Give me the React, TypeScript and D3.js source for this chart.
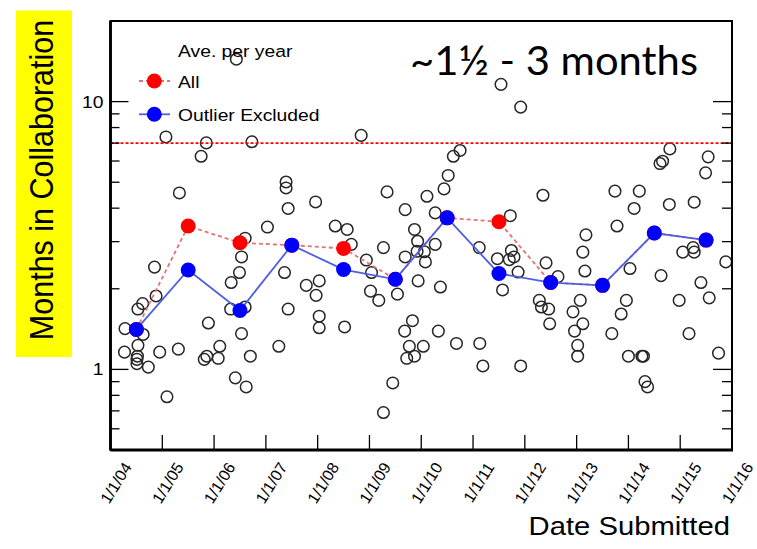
import React from "react";
import * as d3 from "d3";

// Submission date (decimal year) and months spent in collaboration, one entry per paper
const submitYear = [
  2006.43, 2005.07, 2005.85, 2006.73, 2005.75, 2005.33, 2007.39, 2007.39, 2007.43, 2007.96,
  2007.03, 2006.6, 2004.85, 2006.53, 2006.49, 2006.33, 2007.36, 2008.03, 2007.78, 2007.97,
  2004.88, 2004.62, 2004.53, 2006.32, 2006.6, 2007.43, 2008.03, 2004.28, 2004.63, 2005.89,
  2006.53, 2008.03, 2004.53, 2004.27, 2004.95, 2005.31, 2006.11, 2005.86, 2005.81, 2006.08,
  2006.7, 2007.25, 2004.52, 2004.51, 2004.51, 2004.73, 2006.41, 2006.62, 2005.09,
  2011.54, 2011.92, 2008.84, 2010.75, 2010.62, 2010.52, 2010.44, 2010.11, 2009.34, 2009.69,
  2010.27, 2011.72, 2008.34, 2008.57, 2009.87, 2008.65, 2009.27, 2009.93, 2010.27, 2009.92,
  2010.06, 2009.69, 2010.08, 2008.94, 2009.04, 2011.12, 2011.47, 2011.74, 2011.79, 2011.7,
  2011.87, 2009.02, 2009.18, 2009.54, 2009.94, 2010.37, 2011.57, 2008.52, 2009.83, 2009.68,
  2010.33, 2009.77, 2010.04, 2009.72, 2009.87, 2010.68, 2011.13, 2011.19, 2011.92, 2009.45, 2009.27,
  2014.8, 2014.66, 2014.61, 2015.54, 2015.49, 2012.35, 2013.74, 2014.21, 2014.11, 2014.79,
  2015.27, 2013.78, 2013.18, 2013.12, 2013.16, 2012.41, 2012.64, 2014.03, 2014.63, 2015.05,
  2015.25, 2015.27, 2015.88, 2015.4, 2015.56, 2014.98, 2013.96, 2013.86, 2013.07, 2012.93,
  2012.28, 2012.32, 2012.46, 2012.48, 2013.12, 2012.96, 2013.68, 2015.17, 2013.02, 2013.02,
  2014.0, 2014.26, 2014.29, 2015.74, 2014.32, 2014.37,
];

const monthsInCollab = [
  14.4, 7.38, 7.01, 7.08, 6.25, 4.56, 5.01, 4.76, 3.99, 4.22,
  3.4, 3.09, 2.41, 2.63, 2.3, 2.11, 2.3, 2.14, 2.06, 1.89,
  1.88, 1.76, 1.68, 1.68, 1.71, 1.68, 1.58, 1.42, 1.35, 1.49,
  1.36, 1.43, 1.23, 1.16, 1.16, 1.19, 1.22, 1.12, 1.09, 1.1,
  1.12, 1.22, 1.12, 1.09, 1.05, 1.02, 0.93, 0.86, 0.79,
  11.6, 9.54, 7.48, 6.57, 6.25, 5.3, 4.72, 4.43, 4.6, 3.95,
  3.84, 3.75, 3.43, 3.33, 3.33, 2.93, 2.85, 3.01, 2.93, 2.76,
  2.75, 2.63, 2.52, 2.56, 2.3, 2.85, 2.59, 2.78, 2.63, 2.57,
  2.31, 1.96, 1.81, 1.91, 2.14, 2.03, 1.98, 1.44, 1.52, 1.39,
  1.39, 1.22, 1.22, 1.1, 1.12, 1.25, 1.25, 1.03, 1.03, 0.89, 0.69,
  6.66, 5.99, 5.87, 6.22, 5.42, 4.47, 4.63, 4.63, 3.99, 4.13,
  4.21, 3.43, 3.18, 2.74, 2.33, 2.5, 2.22, 2.38, 2.24, 2.74,
  2.85, 2.74, 2.52, 2.11, 1.85, 1.81, 1.81, 1.61, 1.81, 1.64,
  1.81, 1.71, 1.68, 1.48, 1.48, 1.39, 1.36, 1.36, 1.23, 1.12,
  1.12, 1.12, 1.12, 1.15, 0.9, 0.86,
];

// Yearly averages, plotted at mid-year
const avgYear = [2004.5, 2005.5, 2006.5, 2007.5, 2008.5, 2009.5, 2010.5, 2011.5, 2012.5, 2013.5, 2014.5, 2015.5];
const avgAll = [1.41, 3.43, 2.97, 2.91, 2.83, 2.17, 3.68, 3.56, 2.11, 2.06, 3.23, 3.04];
const avgOutlierExcluded = [1.41, 2.35, 1.66, 2.91, 2.36, 2.17, 3.68, 2.28, 2.11, 2.06, 3.23, 3.04];

const referenceLevel = 7;

const xTickYears = [2004, 2005, 2006, 2007, 2008, 2009, 2010, 2011, 2012, 2013, 2014, 2015, 2016];
const xTickLabels = ["1/1/04", "1/1/05", "1/1/06", "1/1/07", "1/1/08", "1/1/09", "1/1/10", "1/1/11", "1/1/12", "1/1/13", "1/1/14", "1/1/15", "1/1/16"];
const yMajorTicks = [1, 10];
const yMajorLabels = ["1", "10"];
const yMinorTicks = [0.6, 0.7, 0.8, 0.9, 2, 3, 4, 5, 6, 7, 8, 9];

const W = 757;
const H = 549;
const left = 110.5;
const right = 732;
const top = 21;
const bottom = 450;
const SX = 1.17; // horizontal text stretch
const FONT = "'Liberation Sans', Arial, Helvetica, sans-serif";

export default function App() {
  const x = d3.scaleLinear().domain([2004, 2016]).range([left, right]);
  const y = d3.scaleLog().domain([0.5, 20]).range([bottom, top]);

  const line = d3
    .line<number>()
    .x((_, i) => x(avgYear[i]))
    .y((d) => y(d));

  const stretched = (tx: number, ty: number, extra = "") => `translate(${tx},${ty}) scale(${SX},1)${extra}`;

  return (
    <svg
      width={W}
      height={H}
      viewBox={`0 0 ${W} ${H}`}
      style={{ position: "absolute", left: 0, top: 0, background: "#fff" }}
      fontFamily={FONT}
    >
      <rect x={0} y={0} width={W} height={H} fill="#fff" />

      {/* y-axis title on yellow band */}
      <rect x={16} y={10.5} width={56} height={346.5} fill="#ffff00" />
      <text
        transform={`translate(53,180) scale(1.1,1) rotate(-90)`}
        textAnchor="middle"
        fontSize={30.5}
        fill="#000"
      >
        Months in Collaboration
      </text>

      {/* scatter of individual papers */}
      <g fill="none" stroke="#262626" strokeWidth={1.5}>
        {submitYear.map((yr, i) => (
          <circle key={i} cx={x(yr)} cy={y(monthsInCollab[i])} r={5.8} />
        ))}
      </g>

      {/* reference level */}
      <line
        x1={left}
        x2={right}
        y1={y(referenceLevel)}
        y2={y(referenceLevel)}
        stroke="#ff0000"
        strokeWidth={1.6}
        strokeDasharray="3 2"
      />

      {/* yearly averages: all papers */}
      <path d={line(avgAll) ?? ""} fill="none" stroke="#e57373" strokeWidth={1.8} strokeDasharray="4 3" />
      <g fill="#ff0000">
        {avgAll.map((v, i) => (
          <circle key={i} cx={x(avgYear[i])} cy={y(v)} r={7.5} />
        ))}
      </g>

      {/* yearly averages: outliers excluded */}
      <path d={line(avgOutlierExcluded) ?? ""} fill="none" stroke="#4f5fe0" strokeWidth={1.8} />
      <g fill="#0000ff">
        {avgOutlierExcluded.map((v, i) => (
          <circle key={i} cx={x(avgYear[i])} cy={y(v)} r={7.5} />
        ))}
      </g>

      {/* frame */}
      <rect x={left} y={top} width={right - left} height={bottom - top} fill="none" stroke="#000" strokeWidth={2} />
      <line x1={left} x2={left} y1={top} y2={bottom} stroke="#000" strokeWidth={2.8} />
      <line x1={left} x2={right + 1} y1={bottom} y2={bottom} stroke="#000" strokeWidth={2.8} />

      {/* y ticks, both sides */}
      <g stroke="#000" strokeWidth={1.3}>
        {yMajorTicks.map((t) => (
          <g key={`M${t}`}>
            <line x1={left} x2={left + 18} y1={y(t)} y2={y(t)} />
            <line x1={right} x2={right - 19} y1={y(t)} y2={y(t)} />
          </g>
        ))}
        {yMinorTicks.map((t) => (
          <g key={`m${t}`}>
            <line x1={left} x2={left + 9} y1={y(t)} y2={y(t)} />
            <line x1={right} x2={right - 10} y1={y(t)} y2={y(t)} />
          </g>
        ))}
      </g>
      {yMajorTicks.map((t, i) => (
        <text key={t} transform={stretched(103.5, y(t) + 6)} textAnchor="end" fontSize={16.5} fill="#000">
          {yMajorLabels[i]}
        </text>
      ))}

      {/* x ticks and rotated date labels */}
      <g stroke="#000" strokeWidth={1.3}>
        {xTickYears.slice(1, -1).map((t) => (
          <line key={t} x1={x(t)} x2={x(t)} y1={bottom} y2={bottom - 15} />
        ))}
      </g>
      {xTickYears.map((t, i) => (
        <text
          key={t}
          transform={`translate(${x(t) + 22},${467}) rotate(-58)`}
          textAnchor="end"
          fontSize={16}
          fill="#000"
        >
          {xTickLabels[i]}
        </text>
      ))}
      <text transform={stretched(730, 535)} textAnchor="end" fontSize={25} fill="#000">
        Date Submitted
      </text>

      {/* legend */}
      <text transform={stretched(178, 56.5)} fontSize={16.5} fill="#000">
        Ave. per year
      </text>
      <line x1={139} x2={170} y1={81} y2={81} stroke="#e57373" strokeWidth={1.8} strokeDasharray="4 3" />
      <circle cx={154.3} cy={81} r={7.5} fill="#ff0000" />
      <text transform={stretched(178, 88)} fontSize={16.5} fill="#000">
        All
      </text>
      <line x1={139} x2={170} y1={114.3} y2={114.3} stroke="#4f5fe0" strokeWidth={1.8} />
      <circle cx={154.3} cy={114.3} r={7.5} fill="#0000ff" />
      <text transform={stretched(178, 120.5)} fontSize={16.5} fill="#000">
        Outlier Excluded
      </text>

      {/* headline annotation */}
      <text
        x={410}
        y={75}
        fontFamily="Lato, 'Open Sans', sans-serif"
        fontSize={40}
        textLength={288}
        lengthAdjust="spacingAndGlyphs"
        fill="#000"
      >
        ~1½ - 3 months
      </text>
    </svg>
  );
}
